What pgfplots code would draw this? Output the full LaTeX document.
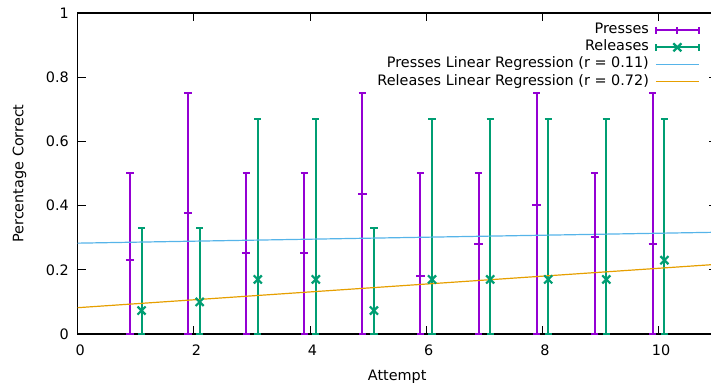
\documentclass[border=0pt]{standalone}
\usepackage{pgfplots}
\usepackage{pgfplotstable}
\pgfplotsset{compat=1.18}
\usepackage{fontspec}
\setmainfont{DejaVu Sans}
\definecolor{cpress}{HTML}{9400D3}
\definecolor{crel}{HTML}{009E73}
\definecolor{cpreg}{HTML}{56B4E9}
\definecolor{crreg}{HTML}{E69F00}

\pgfplotstableread{
x y lo hi
0.9 0.23 0 0.5
1.9 0.378 0 0.75
2.9 0.253 0 0.5
3.9 0.253 0 0.5
4.9 0.435 0 0.75
5.9 0.18 0 0.5
6.9 0.28 0 0.5
7.9 0.403 0 0.75
8.9 0.303 0 0.5
9.9 0.28 0 0.75
}\presses

\pgfplotstableread{
x y lo hi
1.1 0.073 0 0.33
2.1 0.10 0 0.33
3.1 0.17 0 0.67
4.1 0.17 0 0.67
5.1 0.073 0 0.33
6.1 0.17 0 0.67
7.1 0.17 0 0.67
8.1 0.17 0 0.67
9.1 0.17 0 0.67
10.1 0.23 0 0.67
}\releases

\begin{document}
\fontsize{14.4bp}{17.2bp}\selectfont
\begin{tikzpicture}
\begin{axis}[
  scale only axis, width=639bp, height=321bp,
  xmin=0, xmax=11, ymin=0, ymax=1,
  xtick={0,2,4,6,8,10}, ytick={0,0.2,0.4,0.6,0.8,1},
  clip=false,
  axis line style={line width=1.2bp, black},
  major tick length=8bp,
  tick style={line width=1bp, black},
  /pgf/number format/assume math mode=true,
  tick label style={inner sep=0pt},
  yticklabel style={xshift=-8.7bp},
  xticklabel style={yshift=-11bp, xshift=2.5bp},
  xlabel={Attempt}, ylabel={Percentage Correct},
  label style={inner sep=0pt},
  xlabel style={at={(axis description cs:0.5,-0.1121)}, anchor=north},
  ylabel style={at={(axis description cs:-0.102,0.5)}, anchor=north},
  legend style={draw=none, fill=none, at={(axis description cs:0.974,0.974)}, anchor=north east,
    inner sep=0pt, row sep=0pt, column sep=6bp,
    nodes={inner sep=0pt, text height=12bp, text depth=5.2bp}},
  legend cell align=right,
  legend plot pos=right,
]
\addplot[cpress, only marks, mark=+, mark size=4.2bp, mark options={line width=2bp},
  legend image code/.code={
    \draw[cpress, line width=2bp] (0bp,0bp) -- (43bp,0bp) (0bp,-3.5bp) -- (0bp,3.5bp) (43bp,-3.5bp) -- (43bp,3.5bp);
    \draw[cpress, line width=2bp] (21.5bp,-3.5bp) -- (21.5bp,3.5bp);
  },
  error bars/.cd, y dir=both, y explicit,
  error bar style={line width=2bp},
  error mark options={rotate=90, line width=2bp, mark size=3.6bp}]
  table[x=x, y=y, y error plus expr=\thisrow{hi}-\thisrow{y}, y error minus expr=\thisrow{y}-\thisrow{lo}] {\presses};
\addlegendentry{Presses}
\addplot[crel, only marks, mark=x, mark size=5.7bp, mark options={line width=2.2bp},
  legend image code/.code={
    \draw[crel, line width=2bp] (0bp,0bp) -- (43bp,0bp) (0bp,-3.5bp) -- (0bp,3.5bp) (43bp,-3.5bp) -- (43bp,3.5bp);
    \draw[crel, line width=2.2bp] (17.5bp,-4bp) -- (25.5bp,4bp) (17.5bp,4bp) -- (25.5bp,-4bp);
  },
  error bars/.cd, y dir=both, y explicit,
  error bar style={line width=2bp},
  error mark options={rotate=90, line width=2bp, mark size=3.6bp}]
  table[x=x, y=y, y error plus expr=\thisrow{hi}-\thisrow{y}, y error minus expr=\thisrow{y}-\thisrow{lo}] {\releases};
\addlegendentry{Releases}
\addplot[cpreg, line width=1.2bp, legend image code/.code={\draw[cpreg, line width=1.2bp] (0bp,0bp) -- (43bp,0bp);}] coordinates {(0,0.283) (11,0.317)};
\addlegendentry{Presses Linear Regression (r = 0.11)}
\addplot[crreg, line width=1.2bp, legend image code/.code={\draw[crreg, line width=1.2bp] (0bp,0bp) -- (43bp,0bp);}] coordinates {(0,0.082) (11,0.217)};
\addlegendentry{Releases Linear Regression (r = 0.72)}
\end{axis}
\pgfresetboundingbox
\useasboundingbox (-77.7bp,-53bp) rectangle (633.3bp,334bp);
\end{tikzpicture}
\end{document}
